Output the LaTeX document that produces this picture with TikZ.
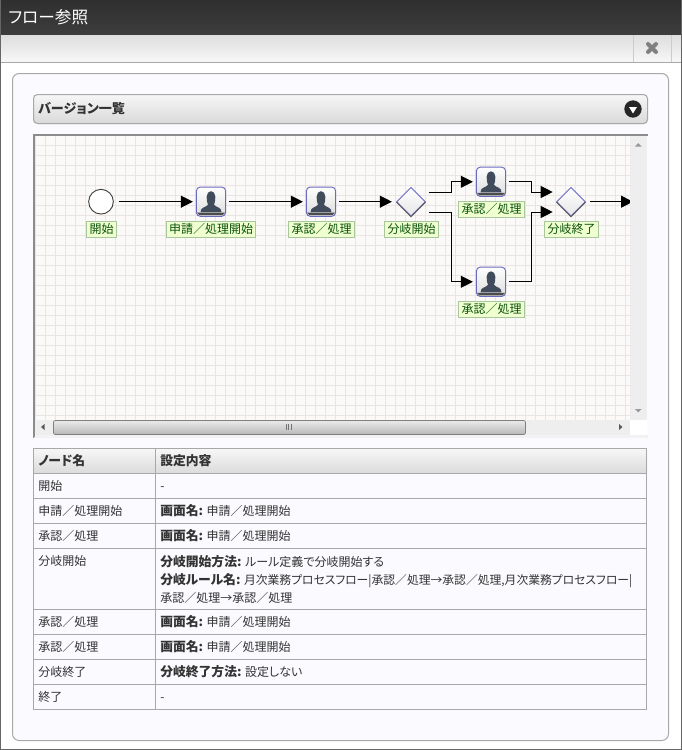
\documentclass[tikz,border=0pt]{standalone}
\usepackage{fontspec}
\setmainfont[RawFeature=+palt]{Noto Sans CJK JP}
\usetikzlibrary{arrows.meta}
\usetikzlibrary{shapes.geometric}
\usetikzlibrary{calc}
\definecolor{titledark}{HTML}{2f2f2f}
\definecolor{titlelight}{HTML}{3d3d3d}
\definecolor{rulegray}{HTML}{a8a8a8}
\definecolor{gridline}{HTML}{eae5e3}
\definecolor{canvasbg}{HTML}{fbfaf8}
\definecolor{scrollbg}{HTML}{eeeeee}
\definecolor{labelfill}{HTML}{efffcf}
\definecolor{labeldraw}{HTML}{a9c79d}
\definecolor{labeltext}{HTML}{0b520b}
\definecolor{iconblue}{HTML}{6a6abf}
\definecolor{person}{HTML}{404b5c}
\definecolor{celltext}{HTML}{333333}
\tikzset{
    flow/.style={-{Triangle[length=9pt,width=9pt]}, line width=0.75pt, black},
    startnode/.style={circle, draw=black!75, fill=white, line width=0.7pt, minimum size=18.5pt, inner sep=0pt, outer sep=4pt},
    tasknode/.style={rectangle, rounded corners=3pt, draw=iconblue, line width=0.7pt, top color=white, bottom color=black!14, minimum size=22pt, inner sep=0pt, outer sep=2.6pt},
    gatenode/.style={diamond, draw=iconblue, line width=0.6pt, top color=white, bottom color=black!10, minimum size=23.5pt, inner sep=0pt, outer sep=2.6pt},
    steplabel/.style={rectangle, draw=labeldraw, fill=labelfill, text=labeltext, line width=0.7pt, font=\fontsize{9}{9}\selectfont, inner xsep=2pt, inner ysep=0pt, minimum height=12.5pt, text height=7.6pt, text depth=1.3pt},
    cell/.style={anchor=west, inner sep=0pt, text=celltext, font=\fontsize{9}{13.5}\selectfont, align=left},
    headcell/.style={anchor=west, inner sep=0pt, text=celltext, font=\fontsize{9.6}{12}\selectfont\bfseries},
    tablerule/.style={rulegray, line width=0.75pt},
}
\newcommand{\bt}[1]{{\fontsize{9.6}{13.5}\selectfont\bfseries #1}}
\newcommand{\personicon}[1]{
    \fill[black!70] ($(#1)+(-11.5,13.5)$) -- ($(#1)+(11.5,13.5)$) -- ($(#1)+(14,11)$) -- ($(#1)+(-14,11)$) -- cycle;
    \fill[person, shift={(#1)}] (-10.5,10.5) .. controls (-10.5,5) and (-5,6) .. (-3,3) .. controls (-5,-1) and (-5.5,-10.5) .. (0,-10.5) .. controls (5.5,-10.5) and (5,-1) .. (3,3) .. controls (5,6) and (10.5,5) .. (10.5,10.5) -- cycle;
}
\newcommand{\gateedge}[1]{
    \draw[black!65, line width=0.7pt, shift={(#1)}] (-14.5,0.5) -- (0,15) -- (14.5,0.5);
}

\begin{document}
\begin{tikzpicture}[x=0.75pt, y=-0.75pt]
    \useasboundingbox (0,0) rectangle (682,750);
    \fill[white] (0,0) rectangle (682,750);
    % window
    \shade[top color=titledark, bottom color=titlelight] (0,0) rectangle (682,35);
    \shade[top color=black!13, bottom color=black!3] (0,35) rectangle (682,62);
    \draw[rulegray] (0,62.5) -- (682,62.5);
    \draw[black!20] (633.5,35) -- (633.5,62) (671.5,35) -- (671.5,62);
    \draw[black!60, line width=0.75pt] (0.5,0) -- (0.5,749.5) -- (681.5,749.5) -- (681.5,0);
    \node[text=white, anchor=west, inner sep=0pt, font=\fontsize{12.5}{12.5}\selectfont] (title) at (8,17) {フロー参照};
    \draw[black!50, line width=3pt, line cap=round] (648,44) -- (656,52) (656,44) -- (648,52);
    % panel
    \draw[rulegray, fill=white!98!blue, rounded corners=5pt, line width=0.75pt] (12.5,73.5) rectangle (668.5,740.5);
    \shade[top color=black!3, bottom color=black!15, rounded corners=3pt] (33,94) rectangle (648,124);
    \draw[rulegray, rounded corners=3pt, line width=0.75pt] (33.5,94.5) rectangle (647.5,123.5);
    \node[headcell, font=\fontsize{9.8}{12}\selectfont\bfseries] (version) at (38,109) {バージョン一覧};
    \fill[black!85] (633,109) circle (6.5pt);
    \fill[white] (629,107) -- (637,107) -- (633,113.5) -- cycle;
    % canvas
    \fill[canvasbg] (33,134) rectangle (647,437);
    \foreach \gx in {0,...,59} {
        \draw[gridline, line width=0.75pt] ({35.5+10*\gx},136) -- ({35.5+10*\gx},420);
    }
    \foreach \gy in {0,...,27} {
        \draw[gridline, line width=0.75pt] (35,{145.5+10*\gy}) -- (630,{145.5+10*\gy});
    }
    \node[startnode] (start) at (101,201.7) {};
    \node[tasknode] (apply) at (211,201.7) {};
    \node[tasknode] (approve) at (321,201.7) {};
    \node[gatenode] (fork) at (411,201.7) {};
    \node[tasknode] (upper) at (491,181.8) {};
    \node[tasknode] (lower) at (491,281.8) {};
    \node[gatenode] (join) at (571,201.7) {};
    \personicon{apply}
    \personicon{approve}
    \personicon{upper}
    \personicon{lower}
    \gateedge{fork}
    \gateedge{join}
    \node[steplabel] (startlabel) at (101.5,229.5) {開始};
    \node[steplabel] (applylabel) at (211,229.5) {申請／処理開始};
    \node[steplabel] (approvelabel) at (321.5,229.5) {承認／処理};
    \node[steplabel] (forklabel) at (411.5,229.5) {分岐開始};
    \node[steplabel] (upperlabel) at (491.5,209.5) {承認／処理};
    \node[steplabel] (lowerlabel) at (491.5,309.5) {承認／処理};
    \node[steplabel] (joinlabel) at (571.5,229.5) {分岐終了};
    \coordinate (forkup) at (429,192);
    \coordinate (forkdown) at (429,212);
    \coordinate (joinup) at (552.7,192);
    \coordinate (joindown) at (552.7,212);
    \coordinate (offcanvas) at (633,201.7);
    \draw[flow] (start) -- (apply);
    \draw[flow] (apply) -- (approve);
    \draw[flow] (approve) -- (fork);
    \draw[flow] (forkup) -- ++(22.5,0) |- (upper.west);
    \draw[flow] (forkdown) -- ++(22.5,0) |- (lower.west);
    \draw[flow] (upper.east) -- ++(22.5,0) |- (joinup);
    \draw[flow] (lower.east) -- ++(22.5,0) |- (joindown);
    \draw[flow] (join) -- (offcanvas);
    % scrollbars
    \fill[scrollbg] (630,136) rectangle (647,437);
    \fill[scrollbg] (35,420) rectangle (647,437);
    \fill[white] (630,420) rectangle (647,435);
    \fill[black!5] (33,435) rectangle (648,437.5);
    \draw[black!45, line width=1.5pt] (33,437) -- (33.9,437) (33.9,437) -- (33.9,134.9) -- (647.5,134.9);
    \shade[top color=black!8, bottom color=black!28, rounded corners=1.5pt] (53.5,420.5) rectangle (525.5,434.5);
    \draw[black!50, rounded corners=1.5pt, line width=0.6pt] (53.5,420.5) rectangle (525.5,434.5);
    \draw[black!55, line width=0.6pt] (286,424) -- (286,430) (288.5,424) -- (288.5,430) (291,424) -- (291,430);
    \fill[black!65] (44.5,424) -- (44.5,430) -- (41,427) -- cycle;
    \fill[black!65] (619,424) -- (619,430) -- (622.5,427) -- cycle;
    \fill[black!40] (635,146.5) -- (641.5,146.5) -- (638.2,143) -- cycle;
    \fill[black!40] (635,409) -- (641.5,409) -- (638.2,412.5) -- cycle;
    % table
    \shade[top color=black!3, bottom color=black!14] (33,448) rectangle (647,473);
    \foreach \ly in {473.5,498.5,523.5,548.5,609.5,634.5,659.5,684.5} {
        \draw[tablerule] (33.5,\ly) -- (646.5,\ly);
    }
    \draw[tablerule] (33.5,448.5) rectangle (646.5,709.5);
    \draw[tablerule] (155.5,448.5) -- (155.5,709.5);
    \node[headcell] (namehead) at (38,461) {ノード名};
    \node[headcell] (sethead) at (160,461) {設定内容};
    \foreach \rowid/\rowy/\rowname/\rowval in {
        a/486/開始/{\vphantom{開}-},
        b/511/申請／処理開始/{\bt{画面名:} 申請／処理開始},
        c/536/承認／処理/{\bt{画面名:} 申請／処理開始},
        e/622/承認／処理/{\bt{画面名:} 申請／処理開始},
        f/647/承認／処理/{\bt{画面名:} 申請／処理開始},
        g/672/分岐終了/{\bt{分岐終了方法:} 設定しない},
        h/697/終了/{\vphantom{開}-}} {
        \node[cell] (name\rowid) at (38,\rowy) {\rowname};
        \node[cell] (value\rowid) at (160,\rowy) {\rowval};
    }
    \node[cell] (named) at (38,561) {分岐開始};
    \node[cell] (valued) at (160,579) {\bt{分岐開始方法:} ルール定義で分岐開始する\\
        \bt{分岐ルール名:} {\fontsize{8.85}{13.5}\selectfont 月次業務プロセスフロー|承認／処理→承認／処理,月次業務プロセスフロー|}\\
        承認／処理→承認／処理};
\end{tikzpicture}
\end{document}
